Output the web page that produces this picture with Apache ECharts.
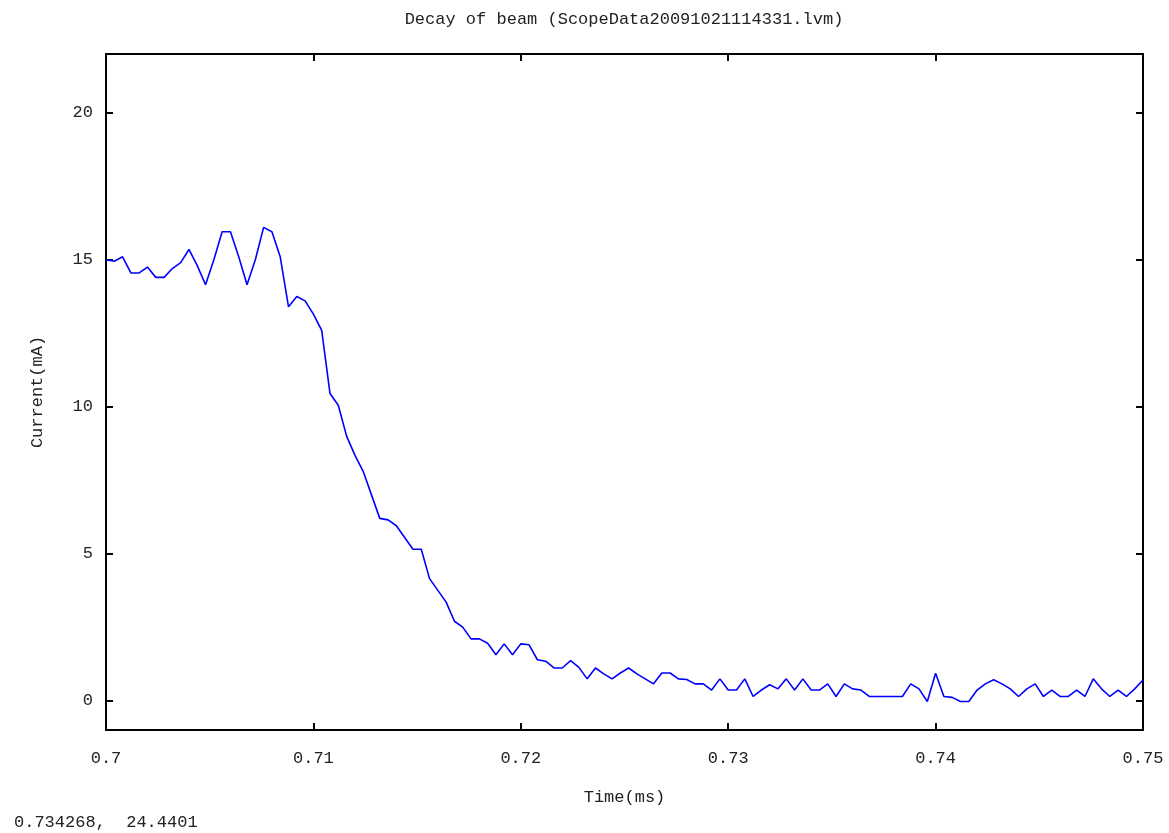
<!DOCTYPE html>
<html>
<head>
<meta charset="utf-8">
<script src="https://cdn.jsdelivr.net/npm/echarts@6/dist/echarts.min.js"></script>
<style>
html,body{margin:0;padding:0;background:#fff;}
#chart{width:1169px;height:833px;}
</style>
</head>
<body>
<div id="chart"></div>
<script>
// Sampling grid of the scope trace (ms)
const sampleStart = 0.7;
const sampleStep = 0.0004;
// Current (mA) at each sample
const current = [
  15.0, 14.95, 15.1, 14.55, 14.55, 14.75, 14.4, 14.4, 14.7, 14.9,
  15.35, 14.8, 14.15, 15.0, 15.95, 15.95, 15.1, 14.15, 15.0, 16.1,
  15.95, 15.1, 13.4, 13.75, 13.6, 13.15, 12.6, 10.45, 10.05, 9.0,
  8.35, 7.8, 7.0, 6.2, 6.15, 5.95, 5.55, 5.15, 5.15, 4.15,
  3.75, 3.35, 2.7, 2.5, 2.1, 2.1, 1.95, 1.56, 1.93, 1.56,
  1.93, 1.9, 1.39, 1.34, 1.11, 1.11, 1.36, 1.13, 0.74, 1.11,
  0.91, 0.74, 0.94, 1.11, 0.91, 0.74, 0.57, 0.94, 0.94, 0.74,
  0.72, 0.57, 0.57, 0.36, 0.74, 0.36, 0.36, 0.74, 0.14, 0.36,
  0.54, 0.4, 0.74, 0.36, 0.74, 0.36, 0.36, 0.57, 0.14, 0.57,
  0.4, 0.36, 0.14, 0.14, 0.14, 0.14, 0.14, 0.57, 0.4, -0.03,
  0.93, 0.14, 0.11, -0.03, -0.03, 0.36, 0.57, 0.71, 0.57, 0.4,
  0.14, 0.4, 0.57, 0.14, 0.36, 0.14, 0.14, 0.36, 0.14, 0.74,
  0.4, 0.14, 0.36, 0.14, 0.4, 0.7
];
const xTicks = [0.7, 0.71, 0.72, 0.73, 0.74, 0.75];
const yTicks = [0, 5, 10, 15, 20];
const titleText = 'Decay of beam (ScopeData20091021114331.lvm)';
const coordText = '0.734268,  24.4401';

const seriesData = current.map((v, i) => [+(sampleStart + i * sampleStep).toFixed(4), v]);

const FONT = 'Liberation Mono, DejaVu Sans Mono, monospace';
const chart = echarts.init(document.getElementById('chart'), null, {renderer: 'canvas'});

function xAxisDef(pos, showLabel) {
  return {
    type: 'value', position: pos, min: 0.7, max: 0.75,
    axisLine: {show: true, onZero: false, lineStyle: {color: '#000', width: 2}},
    axisTick: {show: true, inside: true, length: 7, customValues: xTicks, lineStyle: {color: '#000', width: 2}},
    axisLabel: {show: showLabel, customValues: xTicks, margin: 20, color: '#222', fontFamily: FONT, fontSize: 17,
      formatter: v => String(+v.toFixed(2))},
    splitLine: {show: false},
    name: showLabel ? 'Time(ms)' : '', nameLocation: 'middle', nameGap: 59,
    nameTextStyle: {color: '#222', fontFamily: FONT, fontSize: 17}
  };
}
function yAxisDef(pos, showLabel) {
  return {
    type: 'value', position: pos, min: -1, max: 22,
    axisLine: {show: true, onZero: false, lineStyle: {color: '#000', width: 2}},
    axisTick: {show: true, inside: true, length: 7, customValues: yTicks, lineStyle: {color: '#000', width: 2}},
    axisLabel: {show: showLabel, customValues: yTicks, margin: 13, color: '#222', fontFamily: FONT, fontSize: 17},
    splitLine: {show: false},
    name: showLabel ? 'Current(mA)' : '', nameLocation: 'middle', nameGap: 60, nameRotate: 90,
    nameTextStyle: {color: '#222', fontFamily: FONT, fontSize: 17}
  };
}

chart.setOption({
  animation: false,
  backgroundColor: '#fff',
  grid: {left: 106, right: 26, top: 54, bottom: 103, show: false, containLabel: false},
  xAxis: [xAxisDef('bottom', true), xAxisDef('top', false)],
  yAxis: [yAxisDef('left', true), yAxisDef('right', false)],
  series: [{
    type: 'line', xAxisIndex: 0, yAxisIndex: 0,
    data: seriesData, showSymbol: false, symbol: 'none',
    lineStyle: {color: '#0000ff', width: 1.6}
  }],
  graphic: [
    {type: 'text', x: 624, y: 19, style: {text: titleText, fill: '#222', font: '17px ' + FONT, textAlign: 'center', textVerticalAlign: 'middle'}},
    {type: 'text', x: 14, y: 822, style: {text: coordText, fill: '#222', font: '17px ' + FONT, textAlign: 'left', textVerticalAlign: 'middle'}}
  ]
});
</script>
</body>
</html>
